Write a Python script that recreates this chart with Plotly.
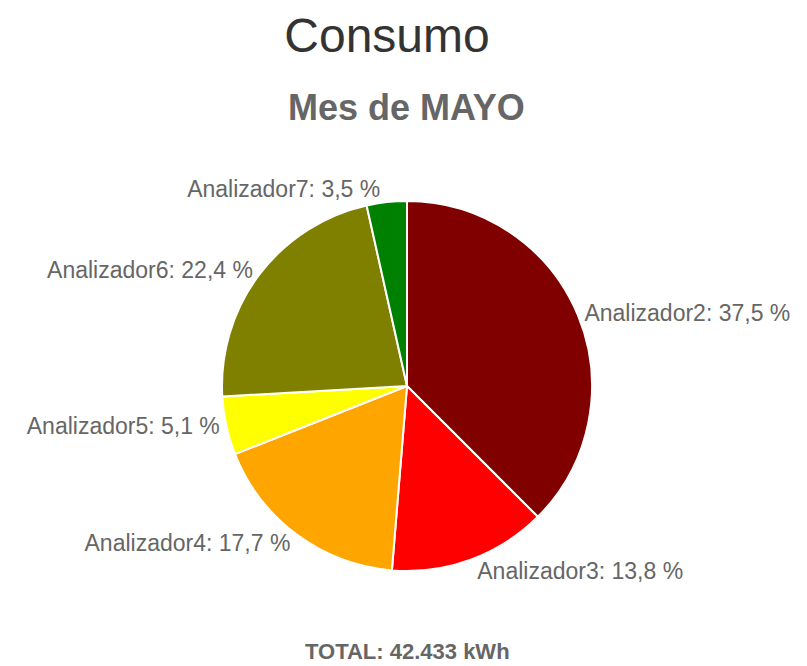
import plotly.graph_objects as go

labels = ["Analizador2", "Analizador3", "Analizador4", "Analizador5", "Analizador6", "Analizador7"]
percentages = [37.5, 13.8, 17.7, 5.1, 22.4, 3.5]
colors = ["#800000", "#FF0000", "#FFA500", "#FFFF00", "#808000", "#008000"]
title_text = "Consumo"
subtitle_text = "Mes de MAYO"
total_text = "TOTAL: 42.433 kWh"

W, H = 807, 666
OFF = 8  # page body margin in the browser

fig = go.Figure(go.Pie(
    labels=labels,
    values=percentages,
    sort=False,
    direction="clockwise",
    rotation=0,
    marker=dict(colors=colors, line=dict(color="#FFFFFF", width=2)),
    textposition="outside",
    texttemplate="%{label}: %{value:.1f} %",
    textfont=dict(family="Liberation Sans, Arial, sans-serif", size=23, color="#666666"),
    hoverinfo="label+percent",
    showlegend=False,
    domain=dict(x=[(222 - OFF) / W, (592 - OFF) / W],
                y=[1 - (571 - OFF) / H, 1 - (201 - OFF) / H]),
))

fig.update_layout(
    width=W, height=H,
    separators=",.",
    paper_bgcolor="white",
    plot_bgcolor="white",
    margin=dict(l=0, r=0, t=0, b=0),
    title=dict(text=title_text, x=(387 - OFF) / W, xanchor="center", y=1 - (35 - OFF) / H, yanchor="middle",
               font=dict(family="Liberation Sans, Arial, sans-serif", size=48, color="#333333")),
    annotations=[
        dict(text="<b>" + subtitle_text + "</b>", x=(406 - OFF) / W, y=1 - (107 - OFF) / H,
             xref="paper", yref="paper", xanchor="center", yanchor="middle", showarrow=False,
             font=dict(family="Liberation Sans, Arial, sans-serif", size=36, color="#666666")),
        dict(text="<b>" + total_text + "</b>", x=(407 - OFF) / W, y=1 - (651 - OFF) / H,
             xref="paper", yref="paper", xanchor="center", yanchor="middle", showarrow=False,
             font=dict(family="Liberation Sans, Arial, sans-serif", size=22, color="#666666")),
    ],
)

fig.write_html("out.html")
